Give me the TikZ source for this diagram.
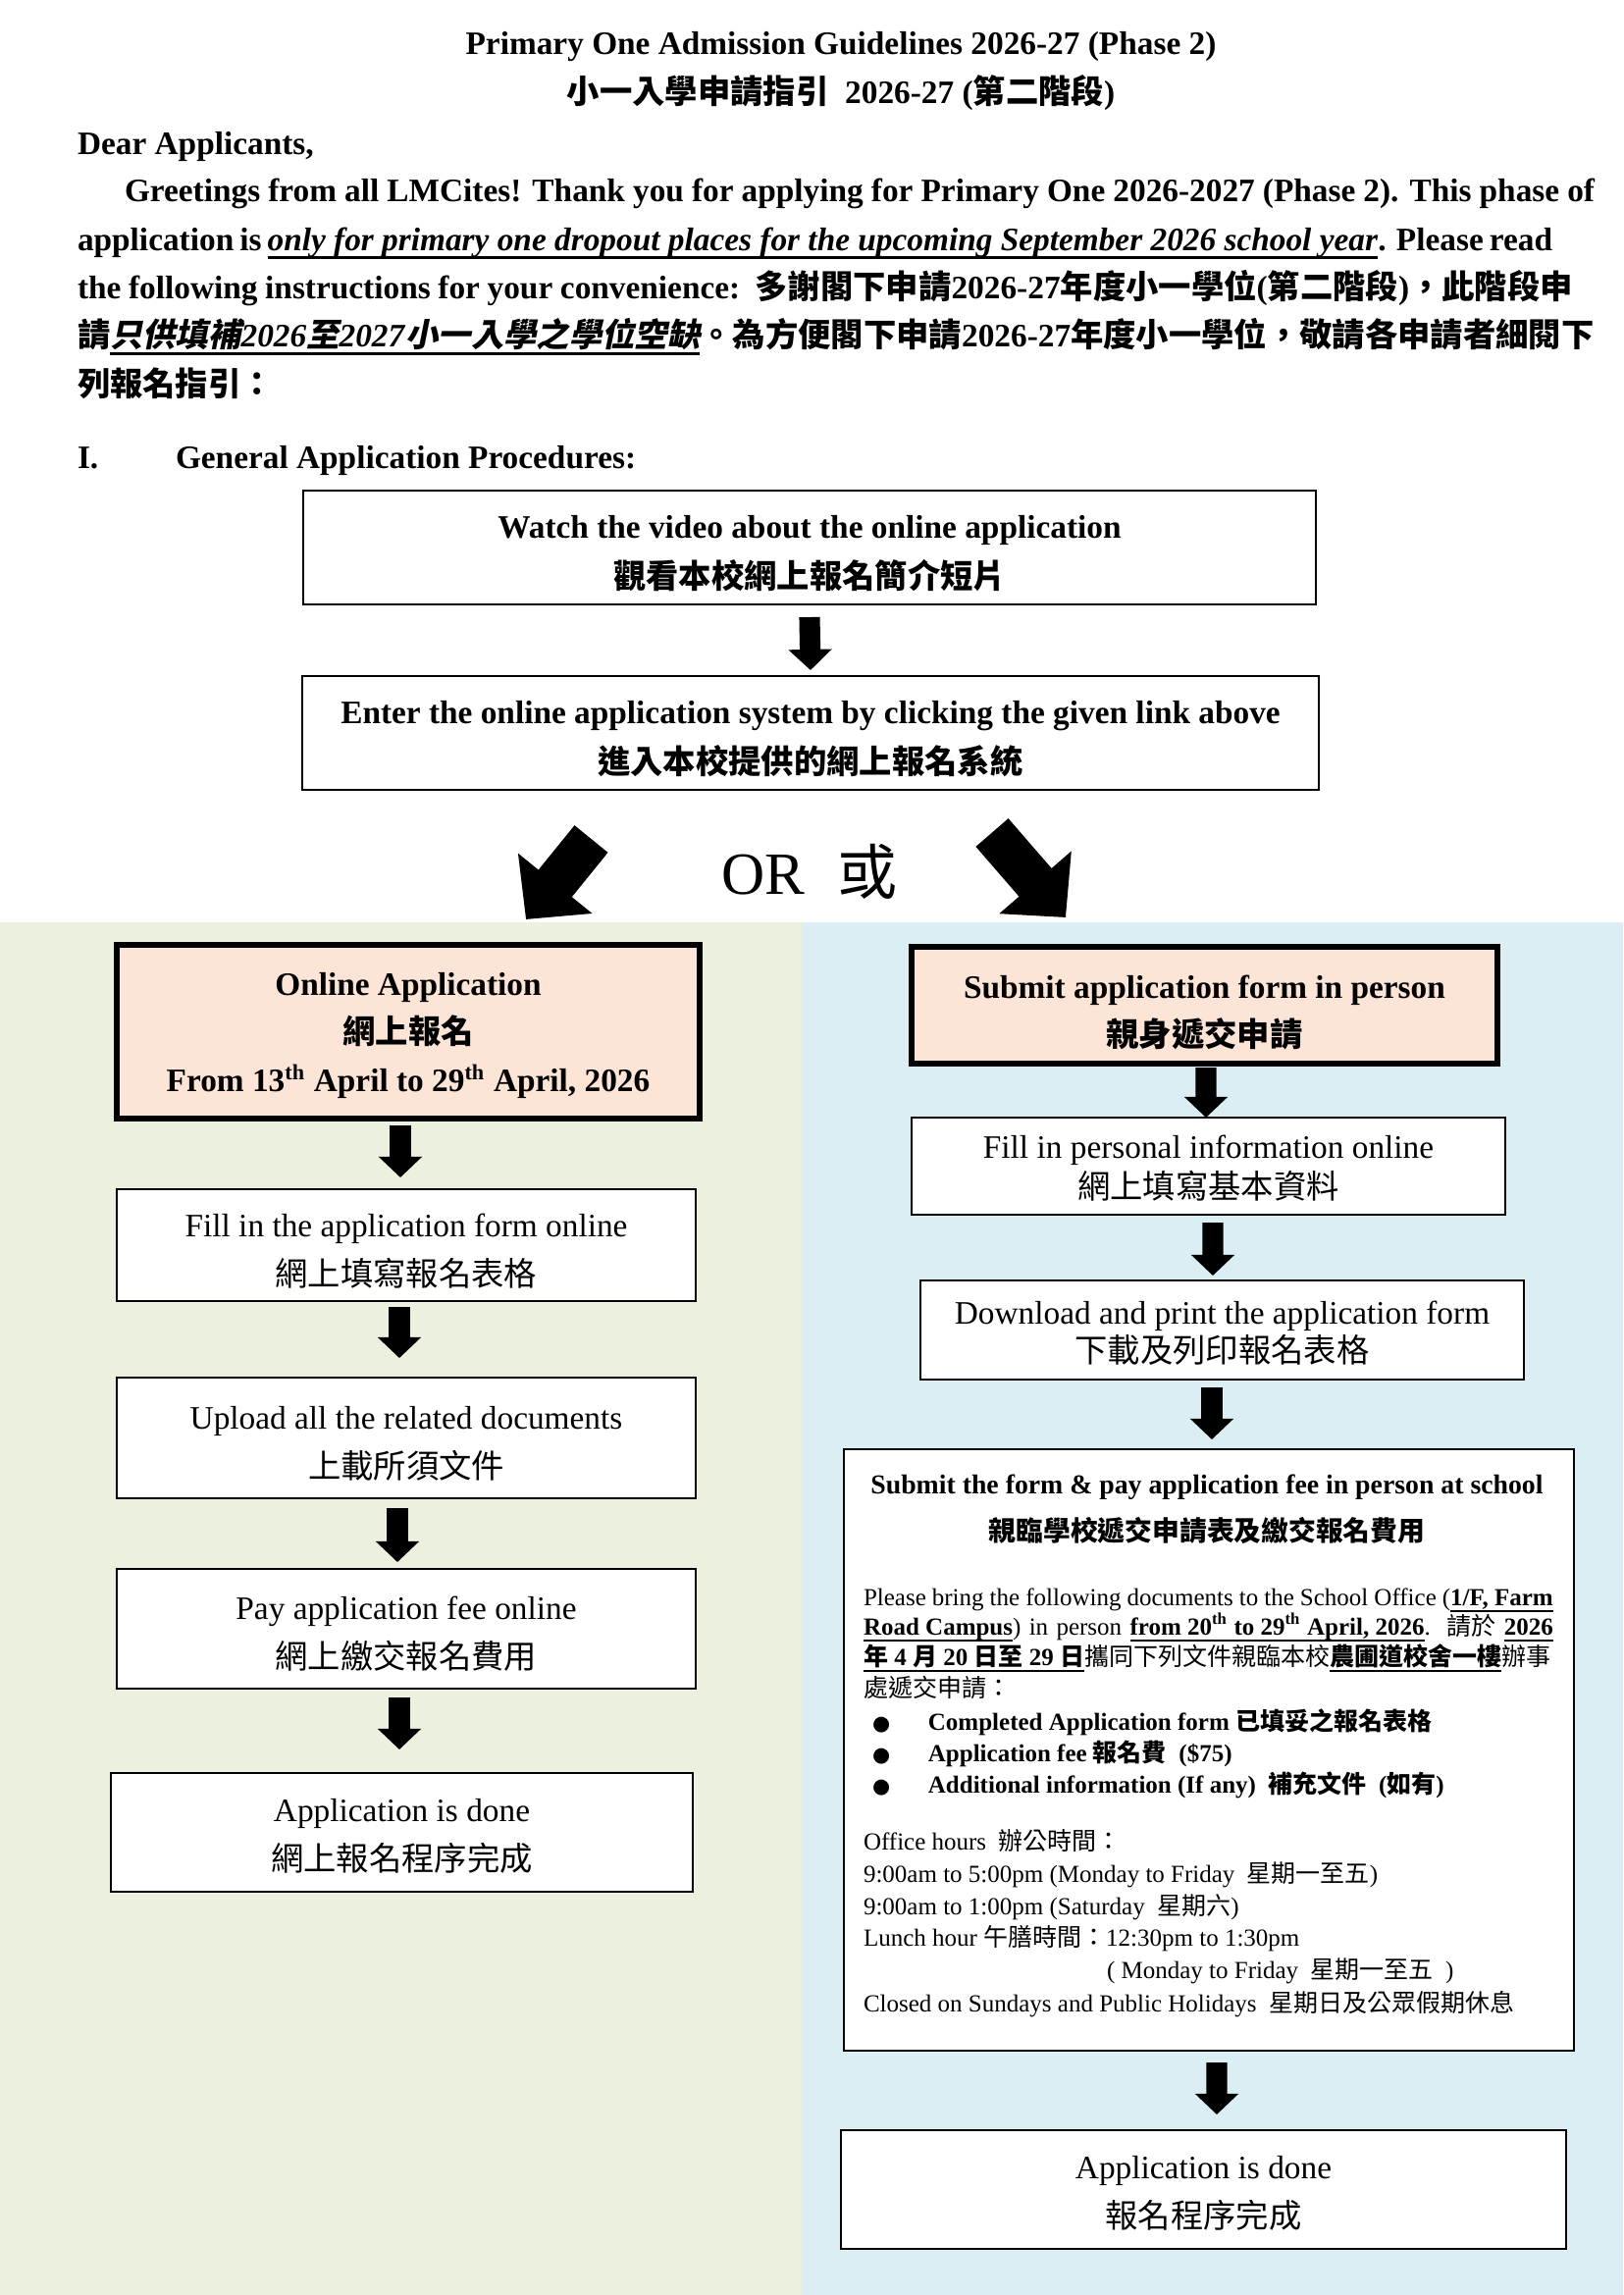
\documentclass[tikz,border=0pt]{standalone}
\usepackage{fontspec}
\setmainfont{Liberation Serif}
\newfontfamily\zhf{Noto Sans CJK TC}
\newfontfamily\zhsl{Noto Sans CJK TC}[FakeSlant=0.2]
\newfontfamily\dejavu{DejaVu Sans}
\usetikzlibrary{arrows.meta,calc}
\XeTeXlinebreaklocale "zh"
\XeTeXlinebreakskip=0pt plus 1pt
\definecolor{greenbg}{HTML}{EBF1DE}
\definecolor{bluebg}{HTML}{DAEEF3}
\definecolor{peach}{HTML}{FCE4D6}
\newcommand\zh[1]{{\zhf #1}}
\newcommand\zs[1]{{\upshape\zhsl #1}}
\newcommand\ulx[3]{\setbox0=\hbox{#3}\rlap{\rule[#1]{\wd0}{#2}}\box0}
\newcommand\ulA[1]{\ulx{-3.1pt}{1.1pt}{#1}}
\newcommand\ulB[1]{\ulx{-2.6pt}{0.9pt}{#1}}
\newcommand\bul{\makebox[20.5pt][l]{{\dejavu\fontsize{7.5}{9}\selectfont ●}}}
\newcommand\st[1][12.5pt]{\rule{0pt}{#1}}
\begin{document}
\begin{tikzpicture}[x=0.36pt,y=-0.36pt,
  every node/.style={inner sep=0pt,outer sep=0pt},
  sz/.style 2 args={minimum width=#1*0.36pt,minimum height=#2*0.36pt},
  ptxt/.style={anchor=base west,font=\fontsize{12}{14}\selectfont\bfseries},
  box/.style={draw,line width=0.6pt,fill=white,align=center,font=\fontsize{12}{18}\selectfont},
  boldbox/.style={box,font=\fontsize{12}{18.5}\selectfont\bfseries},
  keybox/.style={draw,line width=2.2pt,fill=peach,align=center,font=\fontsize{12}{17.6}\selectfont\bfseries},
  flow/.style={line width=7.6pt,-{Triangle[width=15.5pt,length=7.6pt]}},
  bigflow/.style={line width=15.8pt,-{Triangle[width=34pt,length=17pt]}},
  rtxt/.style={anchor=base west,font=\fontsize{9}{11}\selectfont},
  rbold/.style={anchor=base west,font=\fontsize{9}{11}\selectfont\bfseries}]
\useasboundingbox (0,0) rectangle (1654,2339);
% background panels
\fill[greenbg] (0,940) rectangle (817,2339);
\fill[bluebg] (817,940) rectangle (1654,2339);

% heading and introduction
\node[ptxt,anchor=base] (t1) at (857,55) {Primary One Admission Guidelines 2026-27 (Phase 2)};
\node[ptxt,anchor=base] (t2) at (857,105) {\zh{小一入學申請指引}\ \ 2026-27 (\zh{第二階段})};
\node[ptxt] (p0) at (79,157) {Dear Applicants,};
\node[ptxt] (p1) at (127,205) {\hbox to 539.3pt{Greetings from all LMCites! Thank you for applying for Primary One 2026-2027 (Phase 2). This phase of}};
\node[ptxt] (p2) at (79,255) {\hbox to 541.1pt{application is \ulA{\textit{only for primary one dropout places for the upcoming September 2026 school year}}. Please read}};
\node[ptxt] (p3) at (79,304) {\hbox to 548.6pt{the following instructions for your convenience:\ \ \zh{多謝閣下申請}2026-27\zh{年度小一學位}(\zh{第二階段})\zh{，此階段申}}};
\node[ptxt] (p4) at (79,353) {\hbox to 554.4pt{\zh{請}\ulA{\zs{只供填補}\textit{2026}\zs{至}\textit{2027}\zs{小一入學之學位空缺}}\zh{。為方便閣下申請}2026-27\zh{年度小一學位，敬請各申請者細閱下}}};
\node[ptxt] (p5) at (79,403) {\zh{列報名指引：}};
\node[ptxt] (s1) at (79,477) {I.};
\node[ptxt] (s2) at (179,477) {General Application Procedures:};

% common steps
\node[boldbox,sz={1032}{116}] (b1) at (825,558) {\st Watch the video about the online application\\ \zh{觀看本校網上報名簡介短片}};
\node[boldbox,sz={1036}{116}] (b2) at (826,747) {\st Enter the online application system by clicking the given link above\\ \zh{進入本校提供的網上報名系統}};
\draw[flow] ($(b1.south)+(0,13)$) -- ($(b2.north)+(0,-6)$);

\node[anchor=base west,font=\fontsize{22}{26}\selectfont] (or) at (735,911) {OR\hspace{12pt}\zh{或}};

% left branch
\node[keybox,sz={594}{177}] (ol) at (416,1051.5) {\st[11pt]Online Application\\ \zh{網上報名}\\ From 13\textsuperscript{th} April to 29\textsuperscript{th} April, 2026};
\node[box,sz={590}{114}] (l1) at (414,1269) {\st Fill in the application form online\\ \zh{網上填寫報名表格}};
\node[box,sz={590}{123}] (l2) at (414,1465.5) {\st Upload all the related documents\\ \zh{上載所須文件}};
\node[box,sz={590}{122}] (l3) at (414,1660) {\st Pay application fee online\\ \zh{網上繳交報名費用}};
\node[box,sz={593}{121}] (l4) at (409.5,1867.5) {\st[11pt]Application is done\\ \zh{網上報名程序完成}};
\draw[flow] ($(ol.south)+(-8,7)$) -- ($(l1.north)+(-6,-12)$);
\draw[flow] ($(l1.south)+(-7,6)$) -- ($(l2.north)+(-7,-20)$);
\draw[flow] ($(l2.south)+(-9,10)$) -- ($(l3.north)+(-9,-7)$);
\draw[flow] ($(l3.south)+(-7,9)$) -- ($(l4.north)+(-2.5,-24)$);

% right branch
\node[keybox,sz={597}{119}] (sp) at (1227.5,1024.5) {\st[13.5pt]Submit application form in person\\ \zh{親身遞交申請}};
\node[box,sz={605}{99},font=\fontsize{12}{14.6}\selectfont] (r1) at (1231.5,1188.5) {\st[10pt]Fill in personal information online\\ \zh{網上填寫基本資料}};
\node[box,sz={615}{101},font=\fontsize{12}{14}\selectfont] (r2) at (1245.5,1355.5) {\st[10.5pt]Download and print the application form\\ \zh{下載及列印報名表格}};
\node[box,sz={744}{613}] (r3) at (1232,1783.5) {};
\node[box,sz={739}{121}] (r4) at (1226.5,2231.5) {\st[11pt]Application is done\\ \zh{報名程序完成}};
\draw[flow] ($(sp.south)+(1.5,4)$) -- ($(r1.north)+(-2.5,0)$);
\draw[flow] ($(r1.south)+(4.5,8)$) -- ($(r2.north)+(-9.5,-5)$);
\draw[flow] ($(r2.south)+(-10.5,8)$) -- ($(r3.north)+(3,-10)$);
\draw[flow] ($(r3.south)+(8,12)$) -- ($(r4.north)+(13.5,-16)$);

% text inside the in-person box
\node[anchor=base,font=\fontsize{10}{12}\selectfont\bfseries] (r3a) at (1230,1522) {Submit the form \& pay application fee in person at school};
\node[anchor=base,font=\fontsize{10}{12}\selectfont\bfseries] (r3b) at (1230,1570) {\zh{親臨學校遞交申請表及繳交報名費用}};
\node[rtxt] (q1) at (880,1636) {\hbox to 253pt{Please bring the following documents to the School Office (\ulB{\textbf{1/F, Farm}}}};
\node[rtxt] (q2) at (880,1666) {\hbox to 253pt{\ulB{\textbf{Road Campus}}) in person \ulB{\textbf{from 20\textsuperscript{th} to 29\textsuperscript{th} April, 2026}}.\ \ \zh{請於}\ \ulB{\textbf{2026}}}};
\node[rtxt] (q3) at (880,1697) {\hbox to 253pt{\ulB{\textbf{\zh{年} 4 \zh{月} 20 \zh{日至} 29 \zh{日}}}\zh{攜同下列文件親臨本校}\ulB{\textbf{\zh{農圃道校舍一樓}}}\zh{辦事}}};
\node[rtxt] (q4) at (880,1729) {\zh{處遞交申請：}};
\node[rbold] (k1) at (889,1763) {\bul Completed Application form \zh{已填妥之報名表格}};
\node[rbold] (k2) at (889,1795) {\bul Application fee \zh{報名費}\ \ (\$75)};
\node[rbold] (k3) at (889,1827) {\bul Additional information (If any)\ \ \zh{補充文件}\ \ (\zh{如有})};
\node[rtxt] (h1) at (880,1885) {Office hours\ \ \zh{辦公時間：}};
\node[rtxt] (h2) at (880,1918) {9:00am to 5:00pm (Monday to Friday\ \ \zh{星期一至五})};
\node[rtxt] (h3) at (880,1951) {9:00am to 1:00pm (Saturday\ \ \zh{星期六})};
\node[rtxt] (h4) at (880,1983) {Lunch hour \zh{午膳時間：}12:30pm to 1:30pm};
\node[rtxt] (h5) at (1128,2016) {( Monday to Friday\ \ \zh{星期一至五}\ \ )};
\node[rtxt] (h6) at (880,2050) {Closed on Sundays and Public Holidays\ \ \zh{星期日及公眾假期休息}};

% branching arrows
\coordinate (lt) at ($(b2.south)+(-223.5,50)$);
\coordinate (lh) at ($(ol.north)+(120,-26)$);
\coordinate (rt) at ($(b2.south)+(185,43.5)$);
\coordinate (rh) at ($(sp.north)+(-141.5,-30)$);
\draw[bigflow] (lt) -- (lh);
\draw[bigflow] (rt) -- (rh);
\end{tikzpicture}
\end{document}
